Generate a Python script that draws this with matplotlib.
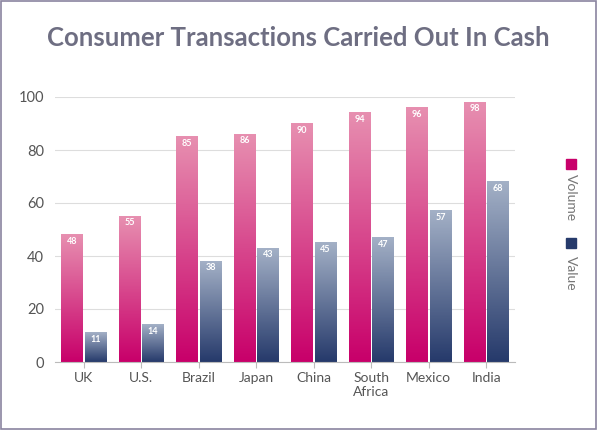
import matplotlib
matplotlib.use("Agg")
import matplotlib.pyplot as plt
import numpy as np
from matplotlib.colors import LinearSegmentedColormap
from matplotlib.patches import Rectangle

categories = ["UK", "U.S.", "Brazil", "Japan", "China", "South\nAfrica", "Mexico", "India"]
volume = [48, 55, 85, 86, 90, 94, 96, 98]
value = [11, 14, 38, 43, 45, 47, 57, 68]

plt.rcParams['font.family'] = ['Lato', 'DejaVu Sans']
fig = plt.figure(figsize=(5.97, 4.30), dpi=100)
fig.patches.append(Rectangle((0.002, 0.002), 0.996, 0.996, transform=fig.transFigure,
                             fill=False, edgecolor="#8a84a0", lw=1.2))
ax = fig.add_axes([55/597, 68/430, 460/597, 265/430])
x = np.arange(len(categories))
w = 0.37
cm_vol = LinearSegmentedColormap.from_list("v", ["#c8006a", "#e78fb0"])
cm_val = LinearSegmentedColormap.from_list("b", ["#263a6b", "#a3b0c6"])
grad = np.linspace(0, 1, 100).reshape(-1, 1)
for xs, vals, cm in [(x - w/2 - 0.02, volume, cm_vol), (x + w/2 + 0.02, value, cm_val)]:
    for xi, v in zip(xs, vals):
        ax.imshow(grad, cmap=cm, origin="lower", aspect="auto",
                  extent=(xi - w/2, xi + w/2, 0, v), zorder=2)
        ax.text(xi, v - 2.5, str(v), color="white", ha="center", va="center",
                fontsize=6.5, fontweight="bold", zorder=3)
ax.set_xlim(-0.5, len(categories) - 0.5)
ax.set_ylim(0, 100)
ax.set_yticks(range(0, 101, 20))
ax.set_xticks(x)
ax.set_xticklabels(categories)
ax.yaxis.grid(True, color="#dddddd", lw=0.8)
ax.set_axisbelow(True)
for s in ["top", "right", "left"]:
    ax.spines[s].set_visible(False)
ax.spines["bottom"].set_color("#bbbbbb")
ax.tick_params(axis="y", length=0, labelsize=10.5, colors="#555555", pad=8)
ax.tick_params(axis="x", length=4, color="#bbbbbb", labelsize=10, colors="#555555")
fig.text(0.5, 1 - 38/430, "Consumer Transactions Carried Out In Cash", ha="center", va="center",
         fontsize=18.5, fontweight="bold", color="#6e6e82")
fig.patches.append(Rectangle((566/597, 1 - 169/430), 10/597, 10/430, transform=fig.transFigure,
                             color="#c8006a"))
fig.patches.append(Rectangle((566/597, 1 - 248/430), 10/597, 10/430, transform=fig.transFigure,
                             color="#263a6b"))
fig.text(571/597, 1 - 198/430, "Volume", rotation=-90, ha="center", va="center", fontsize=10, color="#777777")
fig.text(571/597, 1 - 273/430, "Value", rotation=-90, ha="center", va="center", fontsize=10, color="#777777")
fig.savefig("out.png", dpi=100)
